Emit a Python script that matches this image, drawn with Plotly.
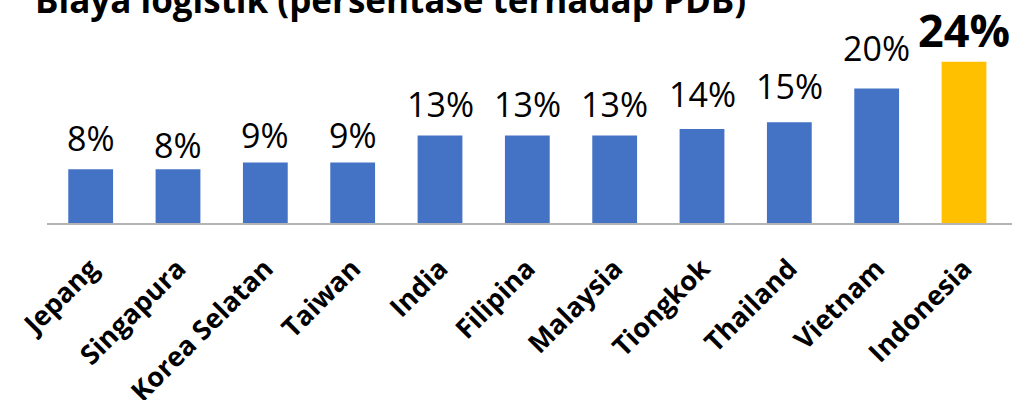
import plotly.graph_objects as go

categories = ["Jepang", "Singapura", "Korea Selatan", "Taiwan", "India", "Filipina",
              "Malaysia", "Tiongkok", "Thailand", "Vietnam", "Indonesia"]
values = [8, 8, 9, 9, 13, 13, 13, 14, 15, 20, 24]
value_labels = ["8%", "8%", "9%", "9%", "13%", "13%", "13%", "14%", "15%", "20%", "24%"]
title_text = "Biaya logistik (persentase terhadap PDB)"

# styles
bar_colors = ["#4472C4"] * 10 + ["#FFC000"]
label_gaps = [20, 13, 16, 16, 20, 20, 20, 23, 25, 29, 16]  # px between bar top and label baseline
FONT = "Open Sans"
TITLE_SIZE = 35

fig = go.Figure()
fig.add_trace(go.Bar(
    x=categories, y=values,
    marker=dict(color=bar_colors, line=dict(width=0)),
    hoverinfo="skip",
))

annotations = []
for i, (c, v, t, g) in enumerate(zip(categories, values, value_labels, label_gaps)):
    highlight = i == len(categories) - 1
    fs = 45 if highlight else 34
    desc = fs * 0.29 + 3.5
    annotations.append(dict(
        x=c, y=v, xref="x", yref="y", text=("<b>%s</b>" % t) if highlight else t,
        showarrow=False, yanchor="bottom", xanchor="center",
        yshift=g - desc,
        font=dict(family=FONT, size=fs, color="#000000"),
    ))

# title: baseline about 12px from the top of the picture (top partly cut off, as in the reference)
annotations.append(dict(
    x=0, y=1, xref="paper", yref="paper", xanchor="left", yanchor="bottom",
    xshift=-14, yshift=(20 - 12) - (TITLE_SIZE * 0.29 + 1) - 2,
    text="<b>%s</b>" % title_text, showarrow=False,
    font=dict(family=FONT, size=TITLE_SIZE, color="#000000"),
))

fig.update_layout(
    width=1018, height=400,
    margin=dict(l=47, r=6, t=20, b=177, autoexpand=False),
    paper_bgcolor="white", plot_bgcolor="white",
    bargap=0.487,
    showlegend=False,
    annotations=annotations,
    xaxis=dict(
        automargin=False,
        showline=True, linecolor="#B4B4B4", linewidth=2,
        showgrid=False, zeroline=False,
        ticks="outside", ticklen=17, tickcolor="rgba(0,0,0,0)",
        tickangle=-45,
        tickfont=dict(family=FONT, size=27, color="#000000"),
        tickprefix="<b>", ticksuffix="</b>",
    ),
    yaxis=dict(visible=False, automargin=False, range=[0, 30.2], showgrid=False, zeroline=False),
)

fig.write_html("out.html", config={"displayModeBar": False},
               post_script="document.body.style.margin='0';")
